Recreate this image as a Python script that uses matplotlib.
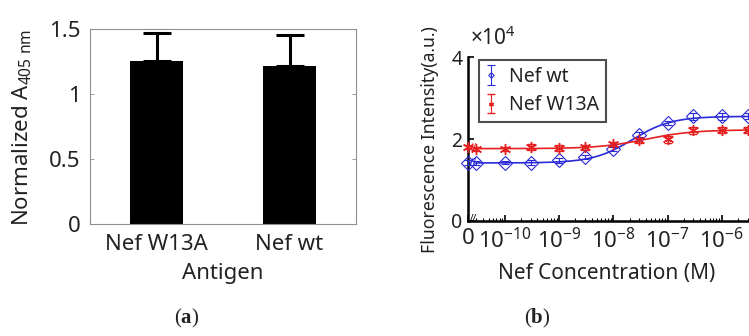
import numpy as np
import matplotlib.pyplot as plt
from matplotlib.ticker import FixedLocator, FixedFormatter, NullFormatter, LogLocator

plt.rcParams['font.family'] = ['Noto Sans', 'DejaVu Sans']
plt.rcParams['mathtext.fontset'] = 'custom'
plt.rcParams['mathtext.rm'] = 'Noto Sans'
plt.rcParams['mathtext.it'] = 'Noto Sans:italic'
plt.rcParams['mathtext.bf'] = 'Liberation Serif:bold'
plt.rcParams['text.color'] = '#222222'
plt.rcParams['xtick.color'] = '#222222'
plt.rcParams['ytick.color'] = '#222222'

# (a) ELISA
antigens = ['Nef W13A', 'Nef wt']
a405 = [1.256, 1.218]
a405_err = [0.215, 0.236]

# (b) titration, intensity in units of 1e4
conc = [3e-11, 1e-10, 3e-10, 1e-9, 3e-9, 1e-8, 3e-8, 1e-7, 3e-7, 1e-6, 3e-6]
wt_zero, wt_zero_err = 1.43, 0.05
w13a_zero, w13a_zero_err = 1.81, 0.06
wt = [1.42, 1.43, 1.43, 1.48, 1.56, 1.76, 2.11, 2.40, 2.56, 2.56, 2.56]
wt_err = [0.05, 0.04, 0.05, 0.05, 0.05, 0.05, 0.06, 0.05, 0.08, 0.08, 0.07]
w13a = [1.76, 1.76, 1.81, 1.78, 1.80, 1.88, 1.97, 2.00, 2.22, 2.23, 2.22]
w13a_err = [0.05, 0.05, 0.08, 0.07, 0.06, 0.05, 0.07, 0.08, 0.08, 0.08, 0.07]

# fitted Hill parameters (bottom, top, logEC50, slope)
wt_fit = (1.42, 2.56, -7.65, 1.2)
w13a_fit = (1.77, 2.23, -7.4, 1.0)

x_zero = 10 ** -10.68

def hill(x, p):
    b, t, ec, h = p
    return b + (t - b) / (1 + 10 ** ((ec - np.log10(x)) * h))

fig = plt.figure(figsize=(7.49, 3.36), dpi=100)

# ---- panel a ----
ax1 = fig.add_axes([0.1202, 0.3333, 0.3551, 0.5804])
pos = np.arange(1, len(antigens) + 1)
ax1.bar(pos, a405, width=0.4, color='black')
ax1.errorbar(pos, a405, yerr=[np.zeros(len(a405)), a405_err], fmt='none',
             ecolor='black', elinewidth=2.2, capsize=10, capthick=2.2)
ax1.set_xlim(0.5, 2.5)
ax1.set_ylim(0, 1.5)
ax1.set_xticks(pos)
ax1.set_xticklabels(antigens)
ax1.set_yticks([0, 0.5, 1, 1.5])
ax1.set_yticklabels(['0', '0.5', '1', '1.5'])
for s in ax1.spines.values():
    s.set_color('#909090')
    s.set_linewidth(0.8)
ax1.tick_params(direction='in', length=3, width=0.6, color='#909090',
                right=True, top=True, labelsize=16, pad=7)
ax1.tick_params(axis='x', length=0)
fig.text(223 / 749, 1 - 274 / 336, 'Antigen', ha='center', va='center', fontsize=16)
fig.text(22 / 749, 1 - 127 / 336, r'Normalized A$_{\mathregular{405\ nm}}$',
         rotation=90, ha='center', va='center', fontsize=16)

# ---- panel b ----
blue = '#2a2ad8'
red = '#e62020'
ax2 = fig.add_axes([0.6248, 0.3423, 0.4112, 0.4866])
ax2.set_xscale('log')
xx = np.logspace(np.log10(conc[0]), -5, 300)
ax2.plot(xx, hill(xx, wt_fit), color=blue, lw=1.2)
ax2.plot(xx, hill(xx, w13a_fit), color=red, lw=1.2)

e1 = ax2.errorbar(conc, wt, yerr=wt_err, ls='none', marker='D', ms=7, mfc='none',
                  mec=blue, mew=0.8, ecolor=blue, elinewidth=0.8, capsize=3)
e2 = ax2.errorbar(conc, w13a, yerr=w13a_err, ls='none', marker=(6, 2, 0), ms=8,
                  mec=red, mew=1, ecolor=red, elinewidth=0.8, capsize=3)
ax2.errorbar([x_zero], [wt_zero], yerr=[wt_zero_err], ls='none', marker='D', ms=7,
             mfc='none', mec=blue, mew=0.8, ecolor=blue, elinewidth=0.8,
             capsize=3, clip_on=False, zorder=5)
ax2.errorbar([x_zero], [w13a_zero], yerr=[w13a_zero_err], ls='none',
             marker=(6, 2, 0), ms=8, mec=red, mew=1, ecolor=red,
             elinewidth=0.8, capsize=3, clip_on=False, zorder=5)

# axis break marks
xb = 10 ** -10.58
ax2.text(xb, wt_zero, '//', color=blue, fontsize=7, ha='center', va='center')
ax2.text(xb, w13a_zero, '//', color=red, fontsize=7, ha='center', va='center')
ax2.text(xb, 0.05, '//', color='black', fontsize=7, ha='center', va='center')

ax2.set_xlim(x_zero, 1e-5)
ax2.set_ylim(0, 4)
major = [x_zero, 1e-10, 1e-9, 1e-8, 1e-7, 1e-6, 1e-5]
ax2.xaxis.set_major_locator(FixedLocator(major))
ax2.xaxis.set_major_formatter(FixedFormatter(['0'] + [r'$10^{%d}$' % k for k in range(-10, -5)] + ['']))
ax2.xaxis.set_minor_locator(LogLocator(base=10, subs=np.arange(2, 10), numticks=20))
ax2.xaxis.set_minor_formatter(NullFormatter())
ax2.set_yticks([0, 2, 4])
ax2.set_yticklabels(['0', '2', '4'])
ax2.spines['top'].set_visible(False)
ax2.spines['right'].set_visible(False)
ax2.spines['left'].set_linewidth(1.8)
ax2.spines['bottom'].set_linewidth(1.8)
ax2.tick_params(which='both', direction='in', color='black')
ax2.tick_params(which='major', length=4, width=1.2)
ax2.tick_params(which='minor', length=2.5, width=0.8)
ax2.tick_params(axis='x', labelsize=16, pad=5)
ax2.tick_params(axis='y', labelsize=14, pad=4)

leg = ax2.legend([e1, e2], ['Nef wt', 'Nef W13A'], loc='upper left',
                 bbox_to_anchor=(0.035, 0.985), borderaxespad=0, fontsize=14,
                 frameon=True, fancybox=False, edgecolor='#222222',
                 markerscale=0.4, handlelength=0.6, handletextpad=0.6,
                 labelspacing=0.45, borderpad=0.35)
leg.get_frame().set_linewidth(1.5)

fig.text(470 / 749, 1 - 38 / 336, r'$\times10^4$', ha='left', va='center', fontsize=15)
fig.text(607 / 749, 1 - 274 / 336, 'Nef Concentration (M)', ha='center', va='center', fontsize=15)
fig.text(430 / 749, 1 - 140 / 336, 'Fluorescence Intensity(a.u.)', rotation=90,
         ha='center', va='center', fontsize=12.7)

# captions
fig.text(187 / 749, 1 - 318 / 336, r'($\mathbf{a}$)', family='Liberation Serif',
         ha='center', va='center', fontsize=15)
fig.text(537 / 749, 1 - 318 / 336, r'($\mathbf{b}$)', family='Liberation Serif',
         ha='center', va='center', fontsize=15)

fig.savefig('out.png', dpi=100)
